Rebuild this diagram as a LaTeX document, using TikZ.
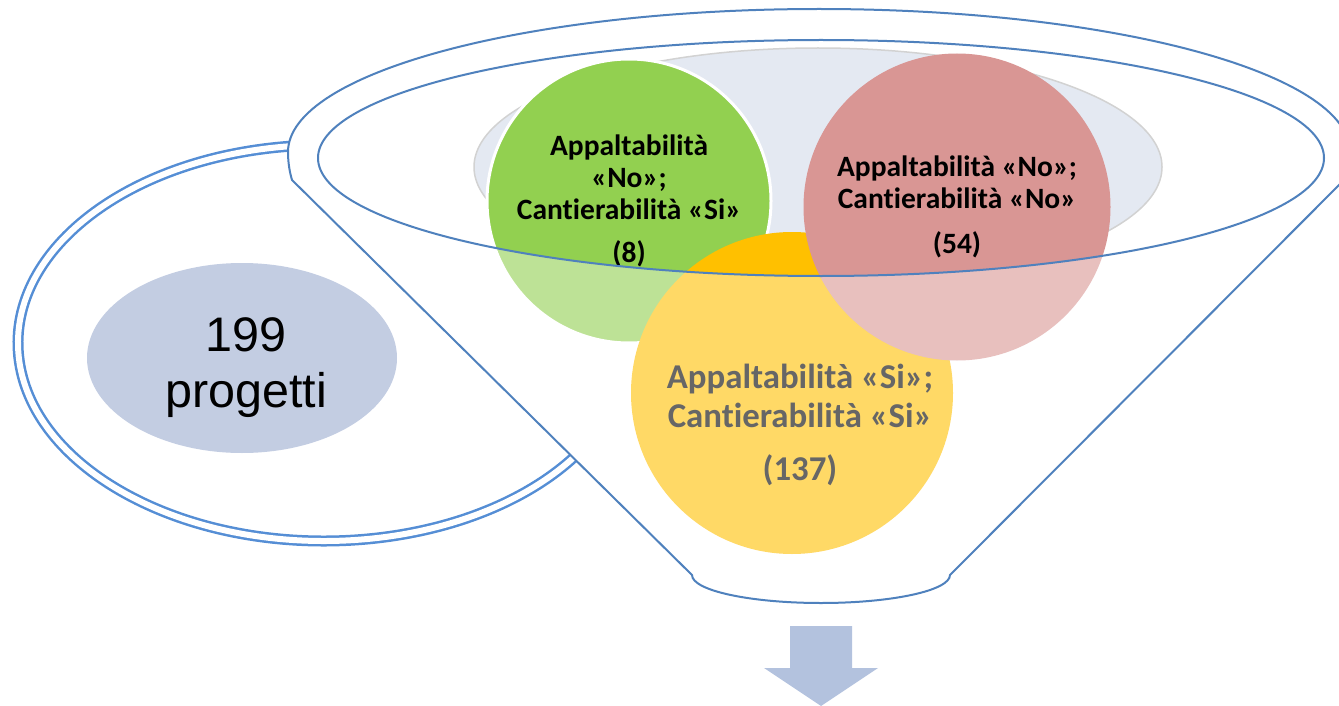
\documentclass[tikz,border=0pt]{standalone}
\usepackage{fontspec}
\setmainfont{Carlito}[Ligatures=NoCommon]
\newfontfamily\arialfont{Liberation Sans}
\usetikzlibrary{shapes.geometric}

\definecolor{funnelblue}{RGB}{79,129,189}
\definecolor{ringblue}{RGB}{85,142,213}
\definecolor{poolgrey}{RGB}{195,205,226}
\definecolor{rimfill}{RGB}{228,233,242}
\definecolor{okgreen}{RGB}{146,208,80}
\definecolor{okyellow}{RGB}{255,192,0}
\definecolor{nored}{RGB}{217,150,148}
\definecolor{arrowblue}{RGB}{179,194,222}

\newcommand{\funnelpath}{(292,-180) .. controls (289,-170) and (288,-160) .. (288,-152)
  arc[start angle=180, end angle=0, x radius=531, y radius=143]
  .. controls (1350,-160) and (1348,-172) .. (1344,-180) -- (950,-575)
  arc[start angle=0, end angle=-180, x radius=129, y radius=28] -- cycle}

\tikzset{
  bubble/.style={circle, inner sep=0, align=center},
  smalltext/.style={font=\bfseries\fontsize{29.5}{32}\selectfont},
  bigtext/.style={font=\bfseries\fontsize{34.8}{39}\selectfont},
  funnelline/.style={draw=funnelblue, line width=2},
  ring/.style={draw=ringblue, line width=2.5, double=white, double distance=6}
}

\begin{document}
\begin{tikzpicture}[x=1pt, y=1pt]
          \useasboundingbox (0,0) rectangle (1339,-706);
          \clip (0,0) rectangle (1339,-706);

          \draw[ring] (324,-343) ++(94:306 and 198)
            arc[start angle=94, end angle=327, x radius=306, y radius=198];
          \fill[white] \funnelpath;

          \node[ellipse, fill=poolgrey, minimum width=310, minimum height=190, inner sep=0] (P) at (242,-358) {};
          \node[align=center, font=\arialfont\fontsize{48.5}{56}\selectfont] (Q) at ([xshift=4, yshift=-10]P) {199\\progetti};

          \draw[gray!35, line width=1.5, fill=rimfill] (818,-167) ellipse[x radius=344, y radius=119];

          \node[bubble, smalltext, fill=okgreen, draw=white, line width=3, minimum size=284] (G) at (629,-201)
            {Appaltabilità\\«No»;\\Cantierabilità «Si»\\[11pt](8)};
          \node[bubble, fill=okyellow, minimum size=322] (Y) at (792,-393) {};
          \node[bubble, smalltext, fill=nored, minimum size=307] (R) at (957,-207)
            {Appaltabilità «No»;\\Cantierabilità «No»\\[13pt](54)};
          \node[bigtext, align=center] (T) at ([xshift=8, yshift=-32]Y)
            {Appaltabilità «Si»;\\Cantierabilità «Si»\\[14pt](137)};

          \fill[white, opacity=0.4, even odd rule] \funnelpath (821,-158) ellipse[x radius=503, y radius=118];
          \draw[funnelline] \funnelpath;
          \draw[funnelline] (821,-158) ellipse[x radius=503, y radius=118];

          \fill[arrowblue] (790,-626) -- (852,-626) -- (852,-668) -- (878,-668) -- (821,-706)
            -- (764,-668) -- (790,-668) -- cycle;
        \end{tikzpicture}
\end{document}
